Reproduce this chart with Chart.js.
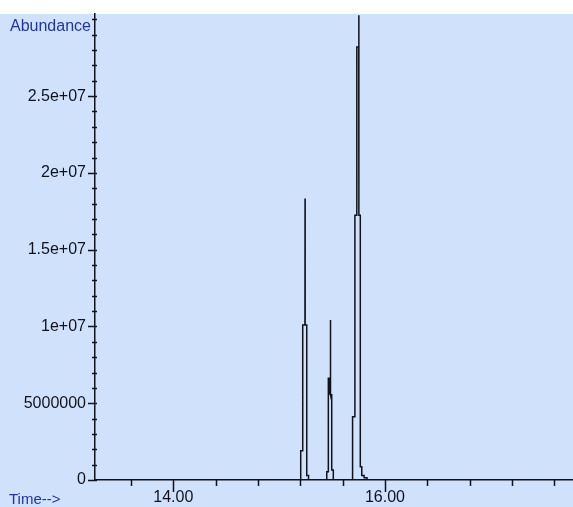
<!DOCTYPE html>
<html>
<head>
<meta charset="utf-8">
<script src="https://cdn.jsdelivr.net/npm/chart.js@4.4.1/dist/chart.umd.min.js"></script>
<style>
  html, body { margin: 0; padding: 0; background: #fff; }
  canvas { display: block; }
</style>
</head>
<body>
<canvas id="tic" width="573" height="507"></canvas>
<script>
// retention time (min) and abundance;
// the detector trace is drawn as steps, so some times repeat
const times = [13.26, 15.204,
  15.204, 15.204, 15.223, 15.223, 15.244, 15.245, 15.246, 15.261, 15.261, 15.278, 15.278,
  15.450, 15.450, 15.465, 15.465, 15.472, 15.472, 15.484, 15.485, 15.486, 15.497, 15.497, 15.512, 15.512,
  15.694, 15.694, 15.716, 15.716, 15.734, 15.734, 15.752, 15.753, 15.754, 15.767, 15.767,
  15.781, 15.781, 15.803, 15.803, 15.83, 15.83, 17.78];
const abundance = [0, 0,
  0, 1.9e6, 1.9e6, 10.1e6, 10.1e6, 18.34e6, 10.1e6, 10.1e6, 0.3e6, 0.3e6, 0,
  0, 0.54e6, 0.54e6, 6.62e6, 6.62e6, 5.6e6, 5.6e6, 10.42e6, 5.55e6, 5.55e6, 0.65e6, 0.65e6, 0,
  0, 4.12e6, 4.12e6, 17.25e6, 17.25e6, 28.2e6, 28.2e6, 30.27e6, 17.25e6, 17.25e6, 0.87e6,
  0.87e6, 0.3e6, 0.3e6, 0.15e6, 0.15e6, 0, 0];

const yTickValues = [0, 5e6, 1e7, 1.5e7, 2e7, 2.5e7];
const yTickLabels = ['0', '5000000', '1e+07', '1.5e+07', '2e+07', '2.5e+07'];
const xTickValues = [14, 16];
const xTickLabels = ['14.00', '16.00'];
const xMinorStep = 0.4;
const yMinorStep = 1e6;

const BG = '#d0e2fb';
const INK = '#12121c';
const BLUE = '#2233aa';
const FONT = '"Liberation Sans", Arial, sans-serif';

// background, axis titles and tick marks
const decor = {
  id: 'decor',
  beforeDraw(chart) {
    const ctx = chart.ctx;
    ctx.save();
    ctx.fillStyle = '#fff';
    ctx.fillRect(0, 0, chart.width, chart.height);
    ctx.fillStyle = BG;
    ctx.fillRect(0, chart.chartArea.top, chart.width, chart.height - chart.chartArea.top);
    ctx.restore();
  },
  afterDraw(chart) {
    const ctx = chart.ctx;
    const xs = chart.scales.x, ys = chart.scales.y;
    const a = chart.chartArea;
    ctx.save();
    ctx.strokeStyle = INK;
    ctx.lineWidth = 1.5;
    ctx.beginPath();
    for (let v = 0; v <= ys.max; v += yMinorStep) {
      const y = Math.round(ys.getPixelForValue(v)) + 0.5;
      const major = yTickValues.includes(v);
      ctx.moveTo(major ? a.left - 7 : a.left - 3, y);
      ctx.lineTo(a.left + 2, y);
    }
    const x0 = Math.ceil(xs.min / xMinorStep);
    for (let i = x0; i * xMinorStep <= xs.max; i++) {
      const v = +(i * xMinorStep).toFixed(2);
      const x = Math.round(xs.getPixelForValue(v)) + 0.5;
      const major = xTickValues.includes(v);
      ctx.moveTo(x, a.bottom);
      ctx.lineTo(x, a.bottom + (major ? 12 : 6));
    }
    ctx.stroke();

    ctx.fillStyle = BLUE;
    ctx.font = '16px ' + FONT;
    ctx.textBaseline = 'alphabetic';
    ctx.fillText('Abundance', 10, 31);
    ctx.font = '15px ' + FONT;
    ctx.fillText('Time-->', 9, 504);
    ctx.restore();
  }
};

new Chart(document.getElementById('tic'), {
  type: 'line',
  data: {
    datasets: [{
      data: times.map((t, i) => ({ x: t, y: abundance[i] })),
      borderColor: INK,
      borderWidth: 1.5,
      pointRadius: 0,
      tension: 0,
      fill: false
    }]
  },
  options: {
    responsive: false,
    animation: false,
    devicePixelRatio: 1,
    layout: { padding: { top: 14, left: 0, right: 0, bottom: 0 } },
    plugins: { legend: { display: false }, tooltip: { enabled: false } },
    scales: {
      x: {
        type: 'linear',
        min: 13.26,
        max: 17.777,
        afterBuildTicks: s => { s.ticks = xTickValues.map(v => ({ value: v })); },
        afterFit: s => { s.height = 27; s.paddingLeft = 0; s.paddingRight = 0; },
        grid: { display: true, drawOnChartArea: false, drawTicks: false },
        border: { display: true, color: INK, width: 1.5 },
        ticks: {
          padding: 8,
          color: INK,
          font: { family: FONT, size: 16 },
          maxRotation: 0,
          callback: (v, i) => xTickLabels[i]
        }
      },
      y: {
        min: 0,
        max: 3.035e7,
        afterBuildTicks: s => { s.ticks = yTickValues.map(v => ({ value: v })); },
        afterFit: s => { s.width = 95; s.paddingTop = 0; s.paddingBottom = 0; },
        grid: { display: true, drawOnChartArea: false, drawTicks: false },
        border: { display: true, color: INK, width: 1.5 },
        ticks: {
          padding: 9,
          color: INK,
          font: { family: FONT, size: 16 },
          callback: (v, i) => yTickLabels[i]
        }
      }
    }
  },
  plugins: [decor]
});
</script>
</body>
</html>
